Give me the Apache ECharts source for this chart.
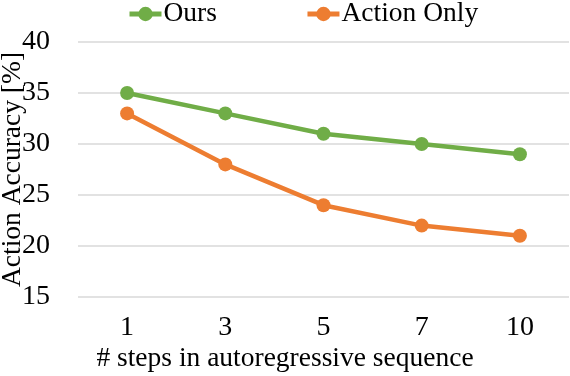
<!DOCTYPE html>
<html><head><meta charset="utf-8">
<script src="https://cdn.jsdelivr.net/npm/echarts@6/dist/echarts.min.js"></script>
<style>html,body{margin:0;padding:0;background:#fff}#c{width:570px;height:376px}</style>
</head><body><div id="c"></div>
<script>
const categories = ['1', '3', '5', '7', '10'];
const oursValues = [35, 33, 31, 30, 29];
const actionOnlyValues = [33, 28, 24, 22, 21];
const seriesNames = ['Ours', 'Action Only'];
const yTicks = {min: 15, max: 40, interval: 5};

const font = '"Liberation Serif", "Times New Roman", serif';
const chart = echarts.init(document.getElementById('c'));
chart.setOption({
  animation: false,
  textStyle: {fontFamily: font},
  legend: {
    top: 0, left: 127, padding: 0, itemGap: 88, itemWidth: 32, itemHeight: 18,
    lineStyle: {width: 5},
    textStyle: {fontFamily: font, fontSize: 27.5, color: '#000', padding: [0, 0, 0, -3]},
    data: seriesNames
  },
  grid: {left: 78, right: 1, top: 42, bottom: 79, outerBoundsMode: 'none', containLabel: false},
  xAxis: {
    type: 'category', data: categories, boundaryGap: true,
    axisLine: {show: false}, axisTick: {show: false},
    axisLabel: {fontFamily: font, fontSize: 28, color: '#000', margin: 17}
  },
  yAxis: {
    type: 'value', min: yTicks.min, max: yTicks.max, interval: yTicks.interval,
    name: 'Action Accuracy [%]', nameLocation: 'middle', nameGap: 51, nameMoveOverlap: false,
    nameTextStyle: {fontFamily: font, fontSize: 27.5, color: '#000'},
    axisLine: {show: false}, axisTick: {show: false},
    axisLabel: {fontFamily: font, fontSize: 28, color: '#000', margin: 28},
    splitLine: {lineStyle: {color: '#d9d9d9', width: 1.5}}
  },
  graphic: [{
    type: 'text', left: 'center', top: 345,
    style: {text: '# steps in autoregressive sequence', font: '27.5px ' + font, fill: '#000'}
  }],
  series: [
    {name: seriesNames[0], type: 'line', data: oursValues, symbol: 'circle', symbolSize: 14,
     lineStyle: {color: '#70AD47', width: 4.5}, itemStyle: {color: '#70AD47'}},
    {name: seriesNames[1], type: 'line', data: actionOnlyValues, symbol: 'circle', symbolSize: 14,
     lineStyle: {color: '#ED7D31', width: 4.5}, itemStyle: {color: '#ED7D31'}}
  ]
});
</script></body></html>
